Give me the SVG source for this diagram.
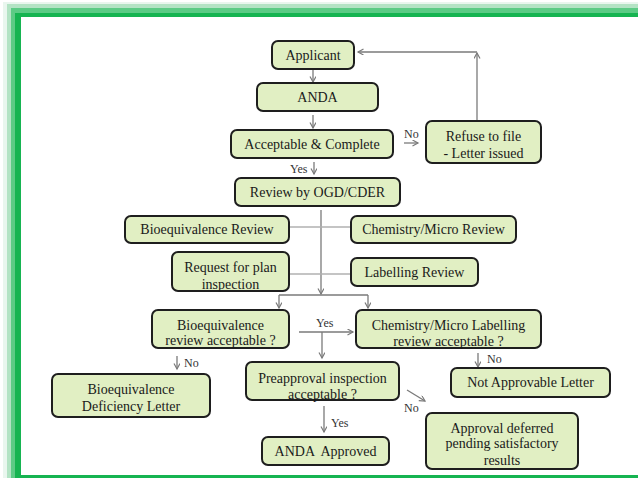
<svg xmlns="http://www.w3.org/2000/svg" width="638" height="478" viewBox="0 0 638 478">
<defs>
<style>
.box{fill:#e1efc3;stroke:#1e1e1e;stroke-width:2}
.t{font-family:'Liberation Serif','DejaVu Serif','Times New Roman',serif;font-size:14px;fill:#1a1a1a;text-anchor:middle;white-space:pre}
.l{font-family:'Liberation Serif','DejaVu Serif','Times New Roman',serif;font-size:12px;fill:#333}
.c{stroke:#7a7a7a;stroke-width:1.3;fill:none}
.cl{stroke:#b0b0b0;stroke-width:1.3;fill:none}
</style>
<marker id="ah" markerWidth="8" markerHeight="8" refX="6" refY="3" orient="auto" markerUnits="userSpaceOnUse">
<path d="M0.5,0 L6,3 L0.5,6" fill="none" stroke="#7a7a7a" stroke-width="1.2"/>
</marker>
</defs>
<rect x="0" y="0" width="638" height="478" fill="#ffffff"/>
<g id="frame">
<path d="M3,478 V2 H638 V17 H21 V478 Z" fill="#e9f6ee"/>
<path d="M7,478 V4 H638 V17 H21 V478 Z" fill="#b3e3c4"/>
<path d="M11,478 V8 H638 V17 H21 V478 Z" fill="#5ccb85"/>
<path d="M15,478 V13 H638 V17 H21 V478 Z" fill="#16b451"/>
<rect x="15" y="475" width="623" height="3" fill="#16b451"/>
</g>
<g id="connectors" font-family="Liberation Serif, serif">
<line class="c" x1="313" y1="70" x2="313" y2="82" marker-end="url(#ah)"/>
<line class="c" x1="313" y1="115" x2="313" y2="128" marker-end="url(#ah)"/>
<line class="c" x1="314" y1="162" x2="314" y2="174" marker-end="url(#ah)"/>
<text class="l" x="290" y="173">Yes</text>
<text class="l" x="404" y="138">No</text>
<line class="c" x1="404" y1="143" x2="418" y2="143" marker-end="url(#ah)"/>
<line class="c" x1="477" y1="120" x2="477" y2="53" marker-end="url(#ah)"/>
<line class="c" x1="477" y1="52" x2="358" y2="52" marker-end="url(#ah)"/>
<line class="c" x1="321" y1="210" x2="321" y2="294" marker-end="url(#ah)"/>
<line class="c" x1="279" y1="295" x2="368" y2="295"/>
<line class="c" x1="279" y1="295" x2="279" y2="308" marker-end="url(#ah)"/>
<line class="c" x1="368" y1="295" x2="368" y2="308" marker-end="url(#ah)"/>
<line class="cl" x1="289" y1="227" x2="351" y2="227"/>
<line class="cl" x1="289" y1="274" x2="351" y2="274"/>
<text class="l" x="316" y="327">Yes</text>
<line class="c" x1="299" y1="332" x2="353" y2="332" marker-end="url(#ah)"/>
<line class="c" x1="322" y1="332" x2="322" y2="358" marker-end="url(#ah)"/>
<line class="c" x1="177" y1="356" x2="177" y2="369" marker-end="url(#ah)"/>
<text class="l" x="184" y="367">No</text>
<line class="c" x1="478" y1="353" x2="478" y2="367" marker-end="url(#ah)"/>
<text class="l" x="487" y="363">No</text>
<line class="c" x1="407" y1="390" x2="425" y2="401" marker-end="url(#ah)"/>
<text class="l" x="404" y="412">No</text>
<line class="c" x1="324" y1="406" x2="324" y2="432" marker-end="url(#ah)"/>
<text class="l" x="331" y="427">Yes</text>
</g>
<g id="applicant"><rect class="box" x="272" y="41" width="82" height="28" rx="6"/><text class="t" x="313" y="60">Applicant</text></g>
<g id="anda"><rect class="box" x="257" y="83" width="121" height="28" rx="6"/><text class="t" x="317.5" y="102">ANDA</text></g>
<g id="acceptable"><rect class="box" x="231" y="130" width="162" height="28" rx="6"/><text class="t" x="312" y="149">Acceptable &amp; Complete</text></g>
<g id="refuse"><rect class="box" x="426" y="121" width="115" height="42" rx="6"/><text class="t" x="483.5" y="141">Refuse to file</text><text class="t" x="483.5" y="158">- Letter issued</text></g>
<g id="review"><rect class="box" x="235" y="178" width="165" height="28" rx="6"/><text class="t" x="317.5" y="197">Review by OGD/CDER</text></g>
<g id="bioeq-review"><rect class="box" x="125" y="216" width="164" height="27" rx="6"/><text class="t" x="207" y="234">Bioequivalence Review</text></g>
<g id="chem-review"><rect class="box" x="351" y="216" width="165" height="27" rx="6"/><text class="t" x="433.5" y="234">Chemistry/Micro Review</text></g>
<g id="request"><rect class="box" x="172" y="252" width="117" height="39" rx="6"/><text class="t" x="230.5" y="272">Request for plan</text><text class="t" x="230.5" y="289">inspection</text></g>
<g id="labelling"><rect class="box" x="351" y="258" width="127" height="28" rx="6"/><text class="t" x="414.5" y="277">Labelling Review</text></g>
<g id="bioeq-acc"><rect class="box" x="152" y="310" width="137" height="38" rx="6"/><text class="t" x="220.5" y="330">Bioequivalence</text><text class="t" x="220.5" y="345">review acceptable ?</text></g>
<g id="chem-acc"><rect class="box" x="356" y="310" width="185" height="38" rx="6"/><text class="t" x="448.5" y="330">Chemistry/Micro Labelling</text><text class="t" x="448.5" y="346">review acceptable ?</text></g>
<g id="bioeq-def"><rect class="box" x="52" y="374" width="158" height="43" rx="6"/><text class="t" x="131" y="394">Bioequivalence</text><text class="t" x="131" y="411">Deficiency Letter</text></g>
<g id="preapproval"><rect class="box" x="246" y="362" width="153" height="38" rx="6"/><text class="t" x="322.5" y="383">Preapproval inspection</text><text class="t" x="322.5" y="399">acceptable ?</text></g>
<g id="not-approvable"><rect class="box" x="451" y="368" width="159" height="29" rx="6"/><text class="t" x="530.5" y="387">Not Approvable Letter</text></g>
<g id="approved"><rect class="box" x="262" y="437" width="127" height="28" rx="6"/><text class="t" x="325.5" y="456">ANDA  Approved</text></g>
<g id="deferred"><rect class="box" x="426" y="413" width="152" height="56" rx="6"/><text class="t" x="502" y="433">Approval deferred</text><text class="t" x="502" y="448">pending satisfactory</text><text class="t" x="502" y="465">results</text></g>
</svg>
